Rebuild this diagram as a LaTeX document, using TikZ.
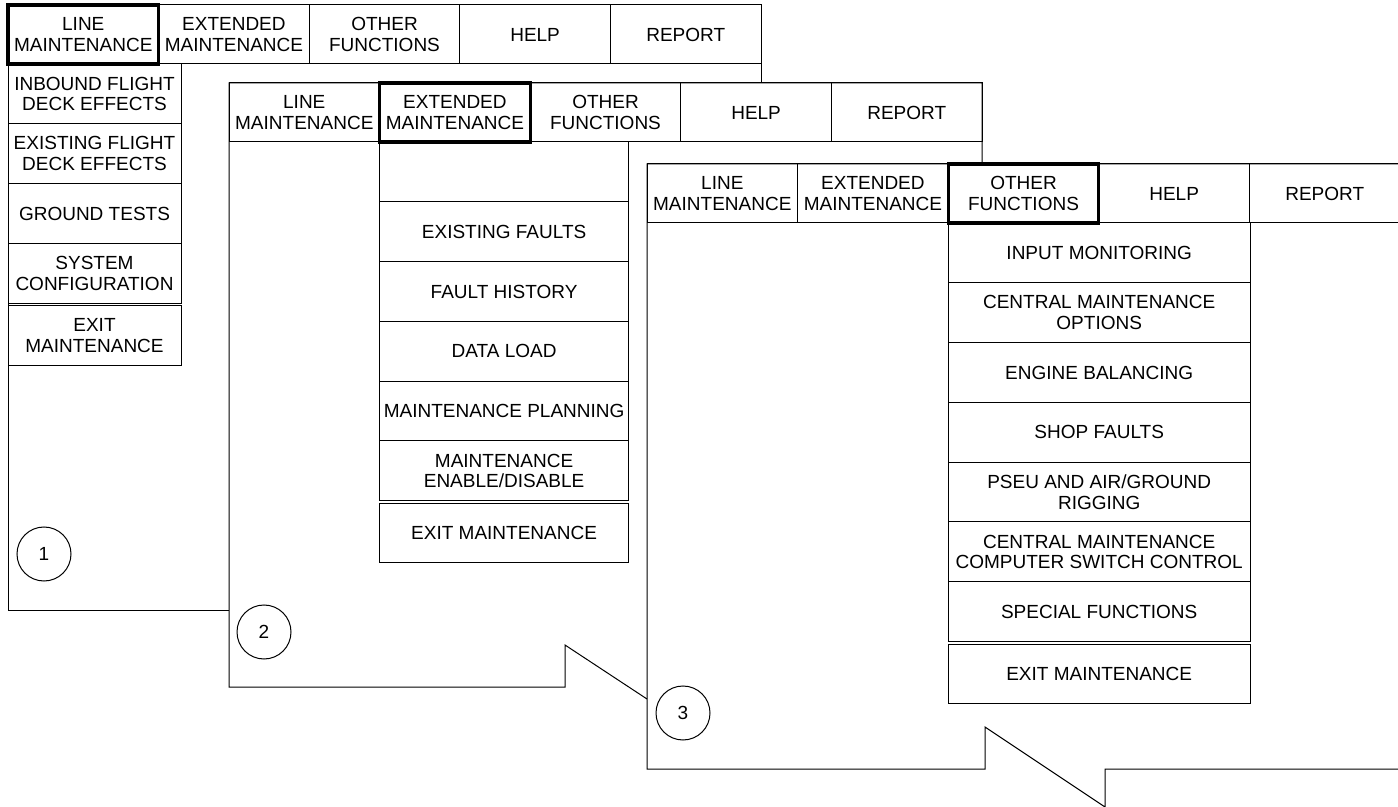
\documentclass[tikz,border=0pt]{standalone}
\usepackage{fontspec}
\setmainfont{Liberation Sans}
\usetikzlibrary{positioning}

\tikzset{
  screen/.style={line width=0.5pt, black},
  tab/.style={draw, line width=0.5pt, minimum width=75.3pt, minimum height=29.5pt,
    inner sep=0.5pt, outer sep=0pt, align=center, font=\fontsize{9.5}{10.4}\selectfont},
  seltab/.style={tab, line width=1.6pt},
  item/.style={draw, line width=0.5pt, minimum height=29.9pt, inner sep=0.5pt,
    outer sep=0pt, align=center, font=\fontsize{9.5}{10.4}\selectfont},
  callout/.style={draw, circle, line width=0.5pt, minimum size=27pt, inner sep=0pt,
    font=\fontsize{9.5}{10.4}\selectfont}
}

\begin{document}
\begin{tikzpicture}[x=0.5pt, y=-0.5pt]
  \useasboundingbox (0,0) rectangle (1398,807);

  %%%%% SCREEN 1 %%%%%
  \draw[screen] (761,83) -- (761,5) -- (8,5) -- (8,610) -- (229,610);
  \node[seltab, anchor=north west] (aline) at (8,5) {LINE\\MAINTENANCE};
  \node[tab, right=0pt of aline] (aext) {EXTENDED\\MAINTENANCE};
  \node[tab, right=0pt of aext] (aoth) {OTHER\\FUNCTIONS};
  \node[tab, right=0pt of aoth] (ahelp) {HELP};
  \node[tab, right=0pt of ahelp] (arep) {REPORT};

  \node[item, minimum width=86.5pt, anchor=north west] (ainb) at (aline.south west) {INBOUND FLIGHT\\DECK EFFECTS};
  \node[item, minimum width=86.5pt, below=0pt of ainb] (aexi) {EXISTING FLIGHT\\DECK EFFECTS};
  \node[item, minimum width=86.5pt, below=0pt of aexi] (agnd) {GROUND TESTS};
  \node[item, minimum width=86.5pt, below=0pt of agnd] (asys) {SYSTEM\\CONFIGURATION};
  \node[item, minimum width=86.5pt, below=1.3pt of asys] (aexit) {EXIT\\MAINTENANCE};

  \node[callout] (c1) at (44,554) {1};

  %%%%% SCREEN 2 %%%%%
  \draw[screen] (647,699) -- (565,645) -- (565,687) -- (229,687) -- (229,83) -- (982,83) -- (982,164);
  \node[tab, anchor=north west] (bline) at (229,83) {LINE\\MAINTENANCE};
  \node[seltab, right=0pt of bline] (bext) {EXTENDED\\MAINTENANCE};
  \node[tab, right=0pt of bext] (both) {OTHER\\FUNCTIONS};
  \node[tab, right=0pt of both] (bhelp) {HELP};
  \node[tab, right=0pt of bhelp] (brep) {REPORT};

  \node[item, minimum width=124.5pt, anchor=north west] (bblank) at (bext.south west) {};
  \node[item, minimum width=124.5pt, below=0pt of bblank] (bexi) {EXISTING FAULTS};
  \node[item, minimum width=124.5pt, below=0pt of bexi] (bhist) {FAULT HISTORY};
  \node[item, minimum width=124.5pt, below=0pt of bhist] (bload) {DATA LOAD};
  \node[item, minimum width=124.5pt, below=0pt of bload] (bplan) {MAINTENANCE PLANNING};
  \node[item, minimum width=124.5pt, below=0pt of bplan] (benab) {MAINTENANCE\\ENABLE/DISABLE};
  \node[item, minimum width=124.5pt, below=1.2pt of benab] (bexit) {EXIT MAINTENANCE};

  \node[callout] (c2) at (264,632) {2};

  %%%%% SCREEN 3 %%%%%
  \draw[screen] (1398,164) -- (647,164) -- (647,769) -- (985,769) -- (985,727)
    -- (1105,807) -- (1105,769) -- (1398,769);
  \node[tab, anchor=north west] (cline) at (647,164) {LINE\\MAINTENANCE};
  \node[tab, right=0pt of cline] (cext) {EXTENDED\\MAINTENANCE};
  \node[seltab, right=0pt of cext] (coth) {OTHER\\FUNCTIONS};
  \node[tab, right=0pt of coth] (chelp) {HELP};
  \node[tab, right=0pt of chelp] (crep) {REPORT};

  \node[item, minimum width=151pt, anchor=north west] (cinp) at (coth.south west) {INPUT MONITORING};
  \node[item, minimum width=151pt, below=0pt of cinp] (copt) {CENTRAL MAINTENANCE\\OPTIONS};
  \node[item, minimum width=151pt, below=0pt of copt] (ceng) {ENGINE BALANCING};
  \node[item, minimum width=151pt, below=0pt of ceng] (cshop) {SHOP FAULTS};
  \node[item, minimum width=151pt, below=0pt of cshop] (cpseu) {PSEU AND AIR/GROUND\\RIGGING};
  \node[item, minimum width=151pt, below=0pt of cpseu] (ccmc) {CENTRAL MAINTENANCE\\COMPUTER SWITCH CONTROL};
  \node[item, minimum width=151pt, below=0pt of ccmc] (cspec) {SPECIAL FUNCTIONS};
  \node[item, minimum width=151pt, below=1.2pt of cspec] (cexit) {EXIT MAINTENANCE};

  \node[callout] (c3) at (683,713) {3};
\end{tikzpicture}
\end{document}
